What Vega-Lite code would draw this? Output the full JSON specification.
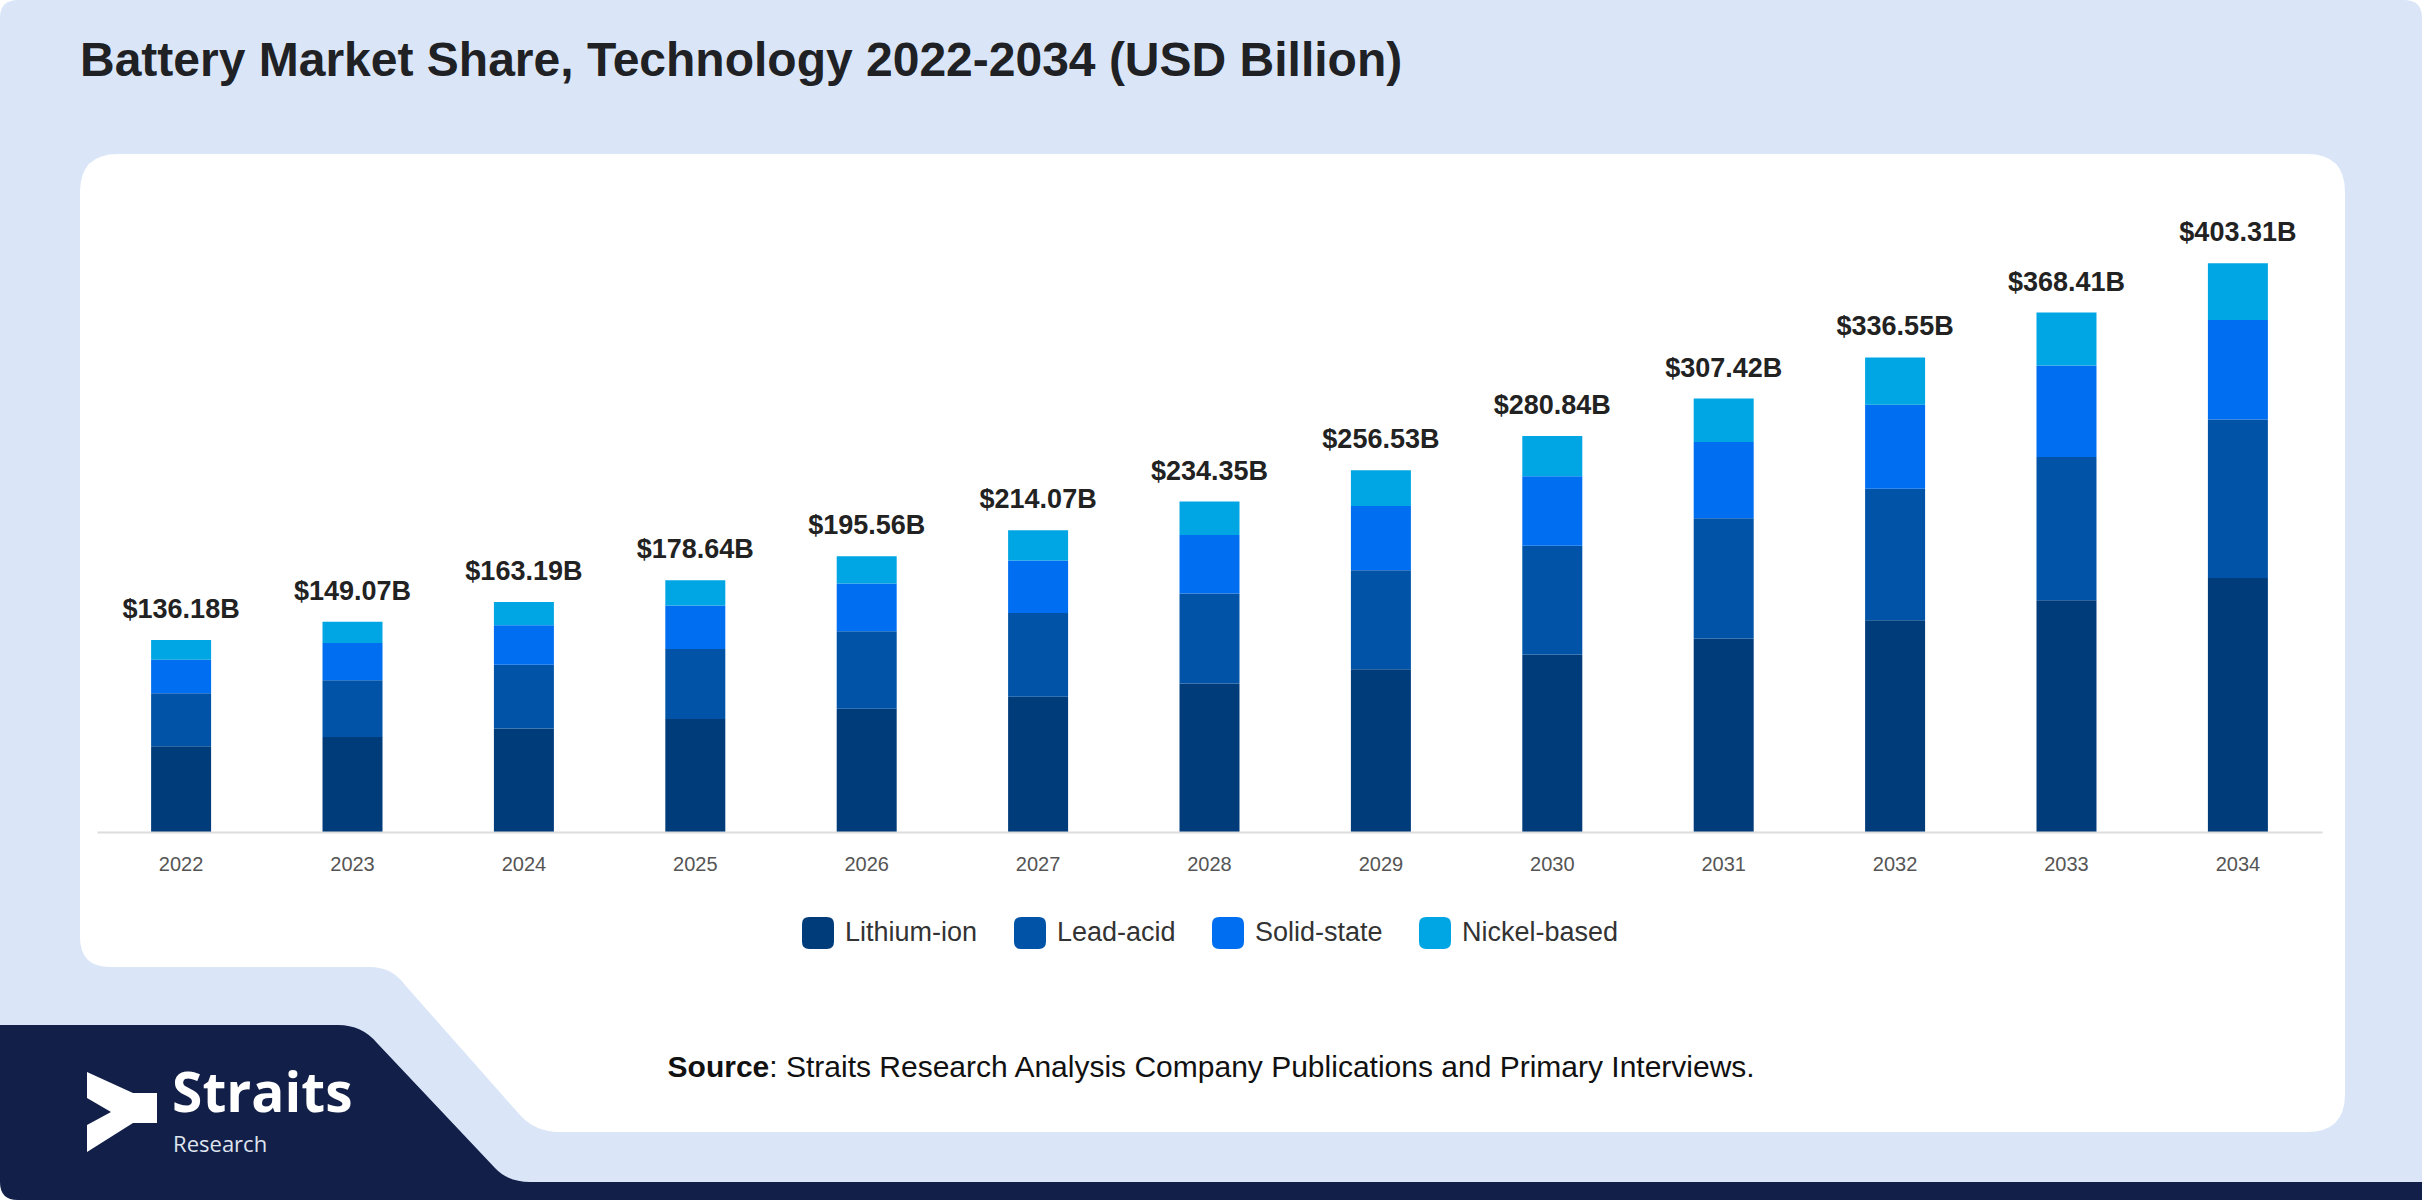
{
  "$schema": "https://vega.github.io/schema/vega-lite/v6.json",
  "width": 2225,
  "height": 1200,
  "autosize": {"type": "none"},
  "padding": {"left": 97, "right": 100, "top": 0, "bottom": 0},
  "background": "white",
  "title": {
    "text": "Battery Market Share, Technology 2022-2034 (USD Billion)",
    "anchor": "start",
    "frame": "group",
    "orient": "top",
    "baseline": "alphabetic",
    "offset": -124,
    "dx": -17,
    "font": "Liberation Sans",
    "fontSize": 48,
    "fontWeight": "bold",
    "color": "#202124"
  },
  "datasets": {
    "segments": [
      {"year": "2022", "tech": "Lithium-ion", "rank": 1, "value": 60.9},
      {"year": "2022", "tech": "Lead-acid", "rank": 2, "value": 37.5},
      {"year": "2022", "tech": "Solid-state", "rank": 3, "value": 23.8},
      {"year": "2022", "tech": "Nickel-based", "rank": 4, "value": 13.98},
      {"year": "2023", "tech": "Lithium-ion", "rank": 1, "value": 67.4},
      {"year": "2023", "tech": "Lead-acid", "rank": 2, "value": 40.2},
      {"year": "2023", "tech": "Solid-state", "rank": 3, "value": 26.5},
      {"year": "2023", "tech": "Nickel-based", "rank": 4, "value": 14.97},
      {"year": "2024", "tech": "Lithium-ion", "rank": 1, "value": 73.5},
      {"year": "2024", "tech": "Lead-acid", "rank": 2, "value": 45.1},
      {"year": "2024", "tech": "Solid-state", "rank": 3, "value": 28.0},
      {"year": "2024", "tech": "Nickel-based", "rank": 4, "value": 16.59},
      {"year": "2025", "tech": "Lithium-ion", "rank": 1, "value": 80.2},
      {"year": "2025", "tech": "Lead-acid", "rank": 2, "value": 49.6},
      {"year": "2025", "tech": "Solid-state", "rank": 3, "value": 30.8},
      {"year": "2025", "tech": "Nickel-based", "rank": 4, "value": 18.04},
      {"year": "2026", "tech": "Lithium-ion", "rank": 1, "value": 87.4},
      {"year": "2026", "tech": "Lead-acid", "rank": 2, "value": 54.9},
      {"year": "2026", "tech": "Solid-state", "rank": 3, "value": 34.0},
      {"year": "2026", "tech": "Nickel-based", "rank": 4, "value": 19.26},
      {"year": "2027", "tech": "Lithium-ion", "rank": 1, "value": 96.0},
      {"year": "2027", "tech": "Lead-acid", "rank": 2, "value": 59.3},
      {"year": "2027", "tech": "Solid-state", "rank": 3, "value": 37.2},
      {"year": "2027", "tech": "Nickel-based", "rank": 4, "value": 21.57},
      {"year": "2028", "tech": "Lithium-ion", "rank": 1, "value": 105.3},
      {"year": "2028", "tech": "Lead-acid", "rank": 2, "value": 63.9},
      {"year": "2028", "tech": "Solid-state", "rank": 3, "value": 41.4},
      {"year": "2028", "tech": "Nickel-based", "rank": 4, "value": 23.75},
      {"year": "2029", "tech": "Lithium-ion", "rank": 1, "value": 115.5},
      {"year": "2029", "tech": "Lead-acid", "rank": 2, "value": 70.2},
      {"year": "2029", "tech": "Solid-state", "rank": 3, "value": 45.5},
      {"year": "2029", "tech": "Nickel-based", "rank": 4, "value": 25.33},
      {"year": "2030", "tech": "Lithium-ion", "rank": 1, "value": 125.9},
      {"year": "2030", "tech": "Lead-acid", "rank": 2, "value": 77.1},
      {"year": "2030", "tech": "Solid-state", "rank": 3, "value": 49.4},
      {"year": "2030", "tech": "Nickel-based", "rank": 4, "value": 28.44},
      {"year": "2031", "tech": "Lithium-ion", "rank": 1, "value": 137.2},
      {"year": "2031", "tech": "Lead-acid", "rank": 2, "value": 85.4},
      {"year": "2031", "tech": "Solid-state", "rank": 3, "value": 54.1},
      {"year": "2031", "tech": "Nickel-based", "rank": 4, "value": 30.72},
      {"year": "2032", "tech": "Lithium-ion", "rank": 1, "value": 150.2},
      {"year": "2032", "tech": "Lead-acid", "rank": 2, "value": 93.2},
      {"year": "2032", "tech": "Solid-state", "rank": 3, "value": 59.7},
      {"year": "2032", "tech": "Nickel-based", "rank": 4, "value": 33.45},
      {"year": "2033", "tech": "Lithium-ion", "rank": 1, "value": 164.3},
      {"year": "2033", "tech": "Lead-acid", "rank": 2, "value": 101.7},
      {"year": "2033", "tech": "Solid-state", "rank": 3, "value": 64.8},
      {"year": "2033", "tech": "Nickel-based", "rank": 4, "value": 37.61},
      {"year": "2034", "tech": "Lithium-ion", "rank": 1, "value": 180.2},
      {"year": "2034", "tech": "Lead-acid", "rank": 2, "value": 112.3},
      {"year": "2034", "tech": "Solid-state", "rank": 3, "value": 70.6},
      {"year": "2034", "tech": "Nickel-based", "rank": 4, "value": 40.21}
    ],
    "totals": [
      {"year": "2022", "total": 136.18},
      {"year": "2023", "total": 149.07},
      {"year": "2024", "total": 163.19},
      {"year": "2025", "total": 178.64},
      {"year": "2026", "total": 195.56},
      {"year": "2027", "total": 214.07},
      {"year": "2028", "total": 234.35},
      {"year": "2029", "total": 256.53},
      {"year": "2030", "total": 280.84},
      {"year": "2031", "total": 307.42},
      {"year": "2032", "total": 336.55},
      {"year": "2033", "total": 368.41},
      {"year": "2034", "total": 403.31}
    ],
    "one": [{}]
  },
  "layer": [
    {
      "data": {"name": "one"},
      "mark": {
        "type": "point",
        "shape": "M-1191.5,-600 L1194.5,-600 Q1212.5,-600 1212.5,-582 L1212.5,582 Q1212.5,600 1194.5,600 L-1191.5,600 Q-1209.5,600 -1209.5,582 L-1209.5,-582 Q-1209.5,-600 -1191.5,-600 Z",
        "size": 4,
        "filled": true,
        "color": "#dae6f8",
        "opacity": 1,
        "strokeWidth": 0
      },
      "encoding": {}
    },
    {
      "data": {"name": "one"},
      "mark": {
        "type": "point",
        "shape": "M-1091.5,-446 L1097.5,-446 Q1135.5,-446 1135.5,-408 L1135.5,494 Q1135.5,532 1097.5,532 L-649.5,532 Q-674.5,532 -689.5,515 L-804.5,385 Q-817.5,367 -839.5,367 L-1099.5,367 Q-1129.5,367 -1129.5,337 L-1129.5,-408 Q-1129.5,-446 -1091.5,-446 Z",
        "size": 4,
        "filled": true,
        "color": "#ffffff",
        "opacity": 1,
        "strokeWidth": 0
      },
      "encoding": {}
    },
    {
      "data": {"name": "one"},
      "mark": {
        "type": "point",
        "shape": "M-1209.5,425 L-871.5,425 Q-847.5,425 -832.5,443 L-714.5,568 Q-701.5,582 -679.5,582 L1212.5,582 L1212.5,600 L-1191.5,600 Q-1209.5,600 -1209.5,582 Z",
        "size": 4,
        "filled": true,
        "color": "#121f48",
        "opacity": 1,
        "strokeWidth": 0
      },
      "encoding": {}
    },
    {
      "data": {"name": "one"},
      "mark": {
        "type": "point",
        "shape": "M-1122.5,472 L-1076.5,493 L-1052.5,493 L-1052.5,523 L-1076.5,523 L-1122.5,552 L-1122.5,525 L-1098.5,512 L-1122.5,498 Z",
        "size": 4,
        "filled": true,
        "color": "#ffffff",
        "opacity": 1,
        "strokeWidth": 0
      },
      "encoding": {}
    },
    {
      "data": {"name": "segments"},
      "mark": {"type": "bar"},
      "encoding": {
        "x": {
          "field": "year",
          "type": "ordinal",
          "scale": {"paddingInner": 0.65, "paddingOuter": 0.3157},
          "axis": {
            "orient": "bottom",
            "offset": -368,
            "zindex": 1,
            "title": null,
            "labelAngle": 0,
            "ticks": false,
            "tickSize": 0,
            "grid": false,
            "domainColor": "#dcdcdc",
            "domainWidth": 2,
            "labelFont": "Liberation Sans",
            "labelFontSize": 20,
            "labelColor": "#555555",
            "labelPadding": 22
          }
        },
        "y": {
          "field": "value",
          "type": "quantitative",
          "stack": "zero",
          "scale": {"domain": [-261, 590.1], "nice": false, "zero": false},
          "axis": null
        },
        "order": {"field": "rank", "type": "quantitative"},
        "color": {
          "field": "tech",
          "type": "nominal",
          "scale": {
            "domain": ["Lithium-ion", "Lead-acid", "Solid-state", "Nickel-based"],
            "range": ["#003b7a", "#0053a6", "#006ef0", "#00a5e3"]
          },
          "legend": {
            "title": null,
            "orient": "none",
            "legendX": 705,
            "legendY": 917,
            "direction": "horizontal",
            "symbolType": "M-1,-0.55 Q-1,-1 -0.55,-1 L0.55,-1 Q1,-1 1,-0.55 L1,0.55 Q1,1 0.55,1 L-0.55,1 Q-1,1 -1,0.55 Z",
            "symbolSize": 1024,
            "symbolStrokeWidth": 0,
            "symbolOpacity": 1,
            "labelFont": "Liberation Sans",
            "labelFontSize": 27,
            "labelColor": "#333333",
            "labelOffset": 11,
            "labelLimit": 400,
            "columnPadding": 36,
            "padding": 0
          }
        }
      }
    },
    {
      "data": {"name": "totals"},
      "mark": {
        "type": "text",
        "baseline": "alphabetic",
        "dy": -22,
        "font": "Liberation Sans",
        "fontSize": 27,
        "fontWeight": "bold",
        "color": "#222222"
      },
      "encoding": {
        "x": {"field": "year", "type": "ordinal"},
        "y": {"field": "total", "type": "quantitative", "axis": null},
        "text": {"field": "total", "type": "quantitative", "format": "$.2f"}
      }
    },
    {
      "data": {"name": "one"},
      "mark": {
        "type": "text",
        "text": "Source",
        "align": "right",
        "baseline": "alphabetic",
        "dx": 74,
        "font": "Liberation Sans",
        "fontSize": 30,
        "fontWeight": "bold",
        "color": "#111111"
      },
      "encoding": {
        "x": {"datum": "2025", "type": "ordinal"},
        "y": {"datum": -173.8, "type": "quantitative", "axis": null}
      }
    },
    {
      "data": {"name": "one"},
      "mark": {
        "type": "text",
        "text": ": Straits Research Analysis Company Publications and Primary Interviews.",
        "align": "left",
        "baseline": "alphabetic",
        "dx": 74,
        "font": "Liberation Sans",
        "fontSize": 30,
        "color": "#111111"
      },
      "encoding": {
        "x": {"datum": "2025", "type": "ordinal"},
        "y": {"datum": -173.8, "type": "quantitative", "axis": null}
      }
    },
    {
      "data": {"name": "one"},
      "mark": {
        "type": "text",
        "text": "Straits",
        "align": "left",
        "baseline": "alphabetic",
        "dx": -9,
        "font": "Open Sans",
        "fontSize": 55,
        "fontWeight": "bold",
        "color": "#ffffff"
      },
      "encoding": {
        "x": {"datum": "2022", "type": "ordinal"},
        "y": {"datum": -198.6, "type": "quantitative", "axis": null}
      }
    },
    {
      "data": {"name": "one"},
      "mark": {
        "type": "text",
        "text": "Research",
        "align": "left",
        "baseline": "alphabetic",
        "dx": -8,
        "font": "Open Sans",
        "fontSize": 22,
        "color": "#dfe4ee"
      },
      "encoding": {
        "x": {"datum": "2022", "type": "ordinal"},
        "y": {"datum": -227, "type": "quantitative", "axis": null}
      }
    }
  ],
  "config": {
    "view": {"stroke": null},
    "locale": {
      "number": {
        "decimal": ".",
        "thousands": ",",
        "grouping": [3],
        "currency": ["$", "B"]
      }
    }
  }
}
